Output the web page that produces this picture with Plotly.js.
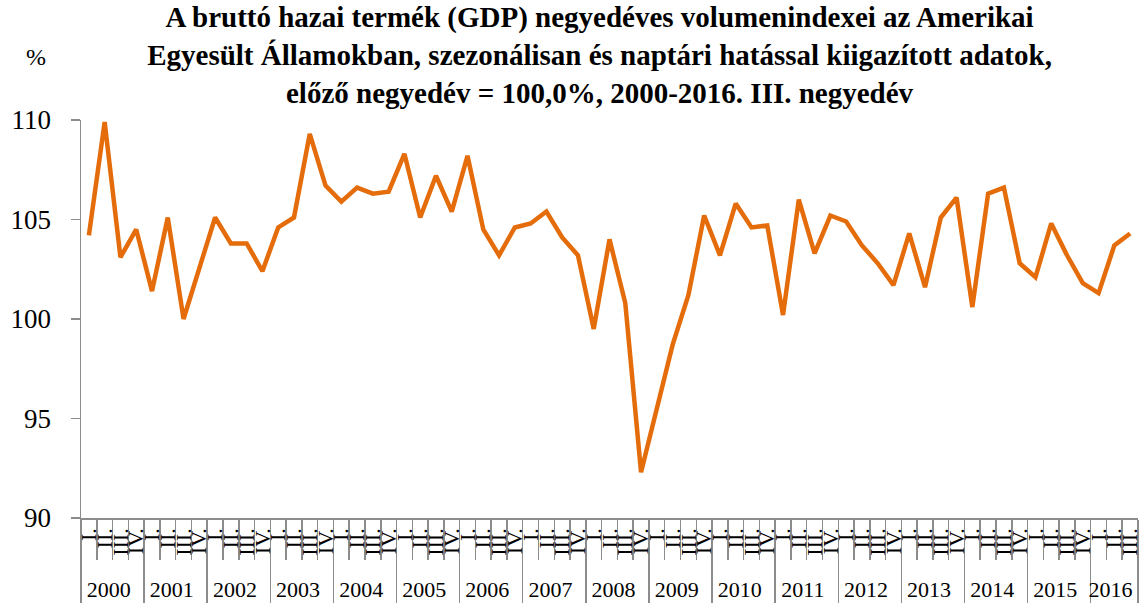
<!DOCTYPE html>
<html>
<head>
<meta charset="utf-8">
<script src="https://cdn.plot.ly/plotly-3.0.1.min.js"></script>
<style>html,body{margin:0;padding:0;background:#fff;}#chart{width:1142px;height:606px;}</style>
</head>
<body>
<div id="chart"></div>
<script>
const years = ["2000","2001","2002","2003","2004","2005","2006","2007","2008","2009","2010","2011","2012","2013","2014","2015","2016"];
const quarterLabels = ["I.","II.","III.","IV."];
const quartersPerYear = [4,4,4,4,4,4,4,4,4,4,4,4,4,4,4,4,3];
const gdpIndex = [
  104.2, 109.9, 103.1, 104.5,
  101.4, 105.1, 100.0, 102.6,
  105.1, 103.8, 103.8, 102.4,
  104.6, 105.1, 109.3, 106.7,
  105.9, 106.6, 106.3, 106.4,
  108.3, 105.1, 107.2, 105.4,
  108.2, 104.5, 103.2, 104.6,
  104.8, 105.4, 104.1, 103.2,
  99.5, 104.0, 100.8, 92.3,
  95.4, 98.7, 101.2, 105.2,
  103.2, 105.8, 104.6, 104.7,
  100.2, 106.0, 103.3, 105.2,
  104.9, 103.7, 102.8, 101.7,
  104.3, 101.6, 105.1, 106.1,
  100.6, 106.3, 106.6, 102.8,
  102.1, 104.8, 103.2, 101.8,
  101.3, 103.7, 104.3
];
const titleText = "A bruttó hazai termék (GDP) negyedéves volumenindexei az Amerikai<br>Egyesült Államokban, szezonálisan és naptári hatással kiigazított adatok,<br>előző negyedév = 100,0%, 2000-2016. III. negyedév";
const yUnit = "%";

const xYears = [], xQuarters = [];
years.forEach((y, i) => {
  for (let q = 0; q < quartersPerYear[i]; q++) { xYears.push(y); xQuarters.push(quarterLabels[q]); }
});

const serif = "'Liberation Serif', 'DejaVu Serif', serif";
const axisGrey = "#8c8c8c";

Plotly.newPlot("chart", [{
  type: "scatter", mode: "lines",
  x: [xYears, xQuarters], y: gdpIndex,
  line: {color: "#E46C0A", width: 4.5},
  cliponaxis: false, hoverinfo: "skip"
}], {
  width: 1142, height: 606,
  margin: {l: 81, r: 4, t: 120, b: 88},
  paper_bgcolor: "#fff", plot_bgcolor: "#fff",
  showlegend: false,
  font: {family: serif, color: "#000"},
  title: {text: titleText, font: {family: serif, size: 29, color: "#000", weight: "bold"},
    xref: "container", x: 0.525, xanchor: "center", yref: "container", y: 0.955, yanchor: "top"},
  xaxis: {
    type: "multicategory",
    range: [-0.5, gdpIndex.length - 0.5],
    tickmode: "linear", dtick: 1,
    showline: true, linecolor: axisGrey, linewidth: 1.5,
    ticks: "outside", ticklen: 40, tickcolor: axisGrey, tickwidth: 1.5,
    tickangle: -90,
    tickfont: {family: serif, size: 22, color: "#000"},
    showdividers: true, dividercolor: axisGrey, dividerwidth: 1.5,
    showgrid: false, zeroline: false, fixedrange: true
  },
  yaxis: {
    range: [90, 110], dtick: 5,
    showline: true, linecolor: axisGrey, linewidth: 1.5,
    ticks: "outside", ticklen: 9, tickcolor: axisGrey, tickwidth: 1.5,
    ticklabelstandoff: 14,
    tickfont: {family: serif, size: 27, color: "#000"},
    showgrid: false, zeroline: false, fixedrange: true
  },
  annotations: [{
    text: yUnit, xref: "paper", yref: "paper", x: -0.043, y: 1.158,
    xanchor: "center", yanchor: "middle", showarrow: false,
    font: {family: serif, size: 24, color: "#000"}
  }]
}, {displayModeBar: false, staticPlot: true});
</script>
</body>
</html>
